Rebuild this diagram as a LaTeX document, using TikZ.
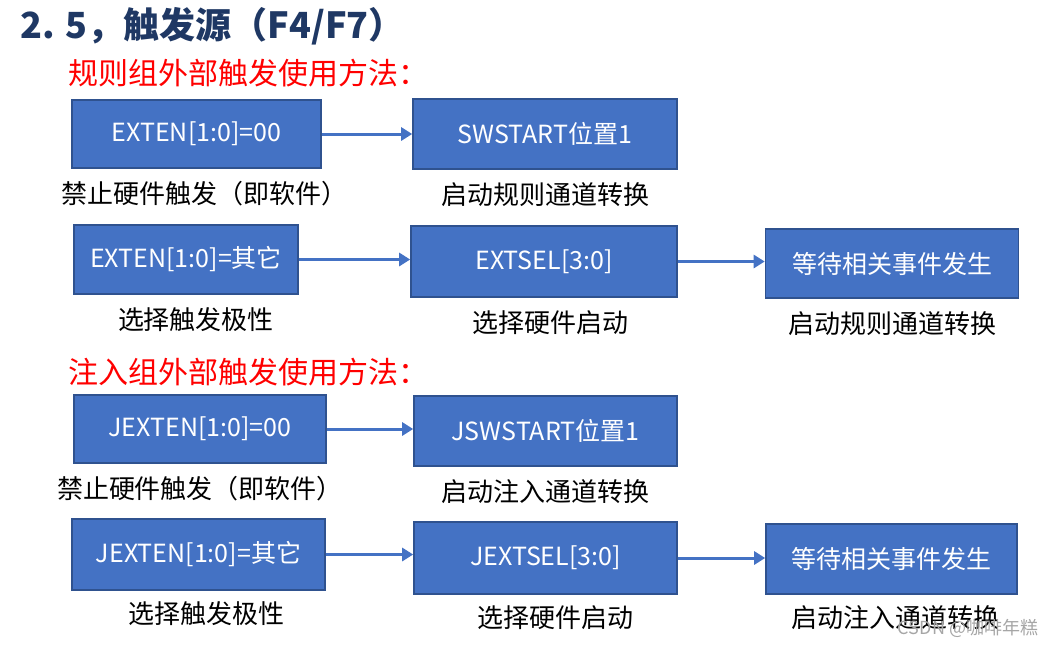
\documentclass[tikz,border=0pt]{standalone}
\usepackage{fontspec}
\setmainfont{Noto Sans CJK SC}
\usepackage{tikz}
\usetikzlibrary{arrows.meta, positioning}
\usepackage{xcolor}
\definecolor{boxblue}{HTML}{4472C4}
\definecolor{boxedge}{HTML}{2F528F}
\definecolor{titlenavy}{HTML}{1F3864}
\definecolor{headred}{HTML}{FF0000}

\begin{document}
\begin{tikzpicture}[
    x=0.5pt, y=-0.5pt,
    node distance=6pt,
    regbox/.style={draw=boxedge, line width=0.8pt, fill=boxblue, text=white, font=\fontsize{12.5}{14}\selectfont, inner sep=0pt},
    note/.style={font=\fontsize{13}{15}\selectfont, inner sep=0pt},
    heading/.style={font=\fontsize{15}{18}\selectfont, text=headred, inner sep=0pt, anchor=west},
    arr/.style={-{Triangle[length=5.5pt, width=6.5pt]}, line width=1.5pt, draw=boxblue},
]
\useasboundingbox (0,0) rectangle (1051,644);

% title and section headings
\node[font=\fontsize{18}{21}\selectfont\bfseries, text=titlenavy, inner sep=0pt, anchor=west] (title) at (20,26) {2.\hspace{0.3em}5，触发源（F4/F7）};
\node[heading] (h1) at (68,73) {规则组外部触发使用方法：};
\node[heading] (h2) at (68,372) {注入组外部触发使用方法：};

% regular group
\node[regbox, minimum width=124.5pt, minimum height=34pt] (a1) at (196.5,134) {EXTEN[1:0]=00};
\node[regbox, minimum width=132pt, minimum height=35pt] (b1) at (545,134) {SWSTART位置1};
\node[note, below=of a1, xshift=4pt] (n1a) {禁止硬件触发（即软件）};
\node[note, below=of b1] (n1b) {启动规则通道转换};

\node[regbox, minimum width=112pt, minimum height=34.5pt] (a2) at (186,259.5) {EXTEN[1:0]=其它};
\node[regbox, minimum width=133pt, minimum height=35.5pt] (b2) at (544,261.5) {EXTSEL[3:0]};
\node[regbox, minimum width=126.5pt, minimum height=34.5pt] (c2) at (892,263.5) {等待相关事件发生};
\node[note, below=of a2, xshift=5pt] (n2a) {选择触发极性};
\node[note, below=of b2, xshift=3pt] (n2b) {选择硬件启动};
\node[note, below=of c2] (n2c) {启动规则通道转换};

% injected group
\node[regbox, minimum width=126pt, minimum height=34pt] (a3) at (200,429) {JEXTEN[1:0]=00};
\node[regbox, minimum width=131.5pt, minimum height=35pt] (b3) at (545.5,431) {JSWSTART位置1};
\node[note, below=of a3] (n3a) {禁止硬件触发（即软件）};
\node[note, below=of b3] (n3b) {启动注入通道转换};

\node[regbox, minimum width=126.5pt, minimum height=35.5pt] (a4) at (198.5,554.5) {JEXTEN[1:0]=其它};
\node[regbox, minimum width=131.5pt, minimum height=36pt] (b4) at (545.5,558) {JEXTSEL[3:0]};
\node[regbox, minimum width=125.5pt, minimum height=35pt] (c4) at (891.5,559) {等待相关事件发生};
\node[note, below=5pt of a4, xshift=4pt] (n4a) {选择触发极性};
\node[note, below=5pt of b4, xshift=5pt] (n4b) {选择硬件启动};
\node[note, below=5pt of c4, xshift=2pt] (n4c) {启动注入通道转换};

\foreach \a/\b in {a1/b1, a2/b2, b2/c2, a3/b3, a4/b4, b4/c4} {
    \draw[arr] (\a.east) -- (\a.east -| \b.west);
}

% watermark
\node[font=\fontsize{9}{11}\selectfont, text=black!35, inner sep=0pt] (mark) at (968,628) {CSDN @咖啡年糕};

\end{tikzpicture}
\end{document}
